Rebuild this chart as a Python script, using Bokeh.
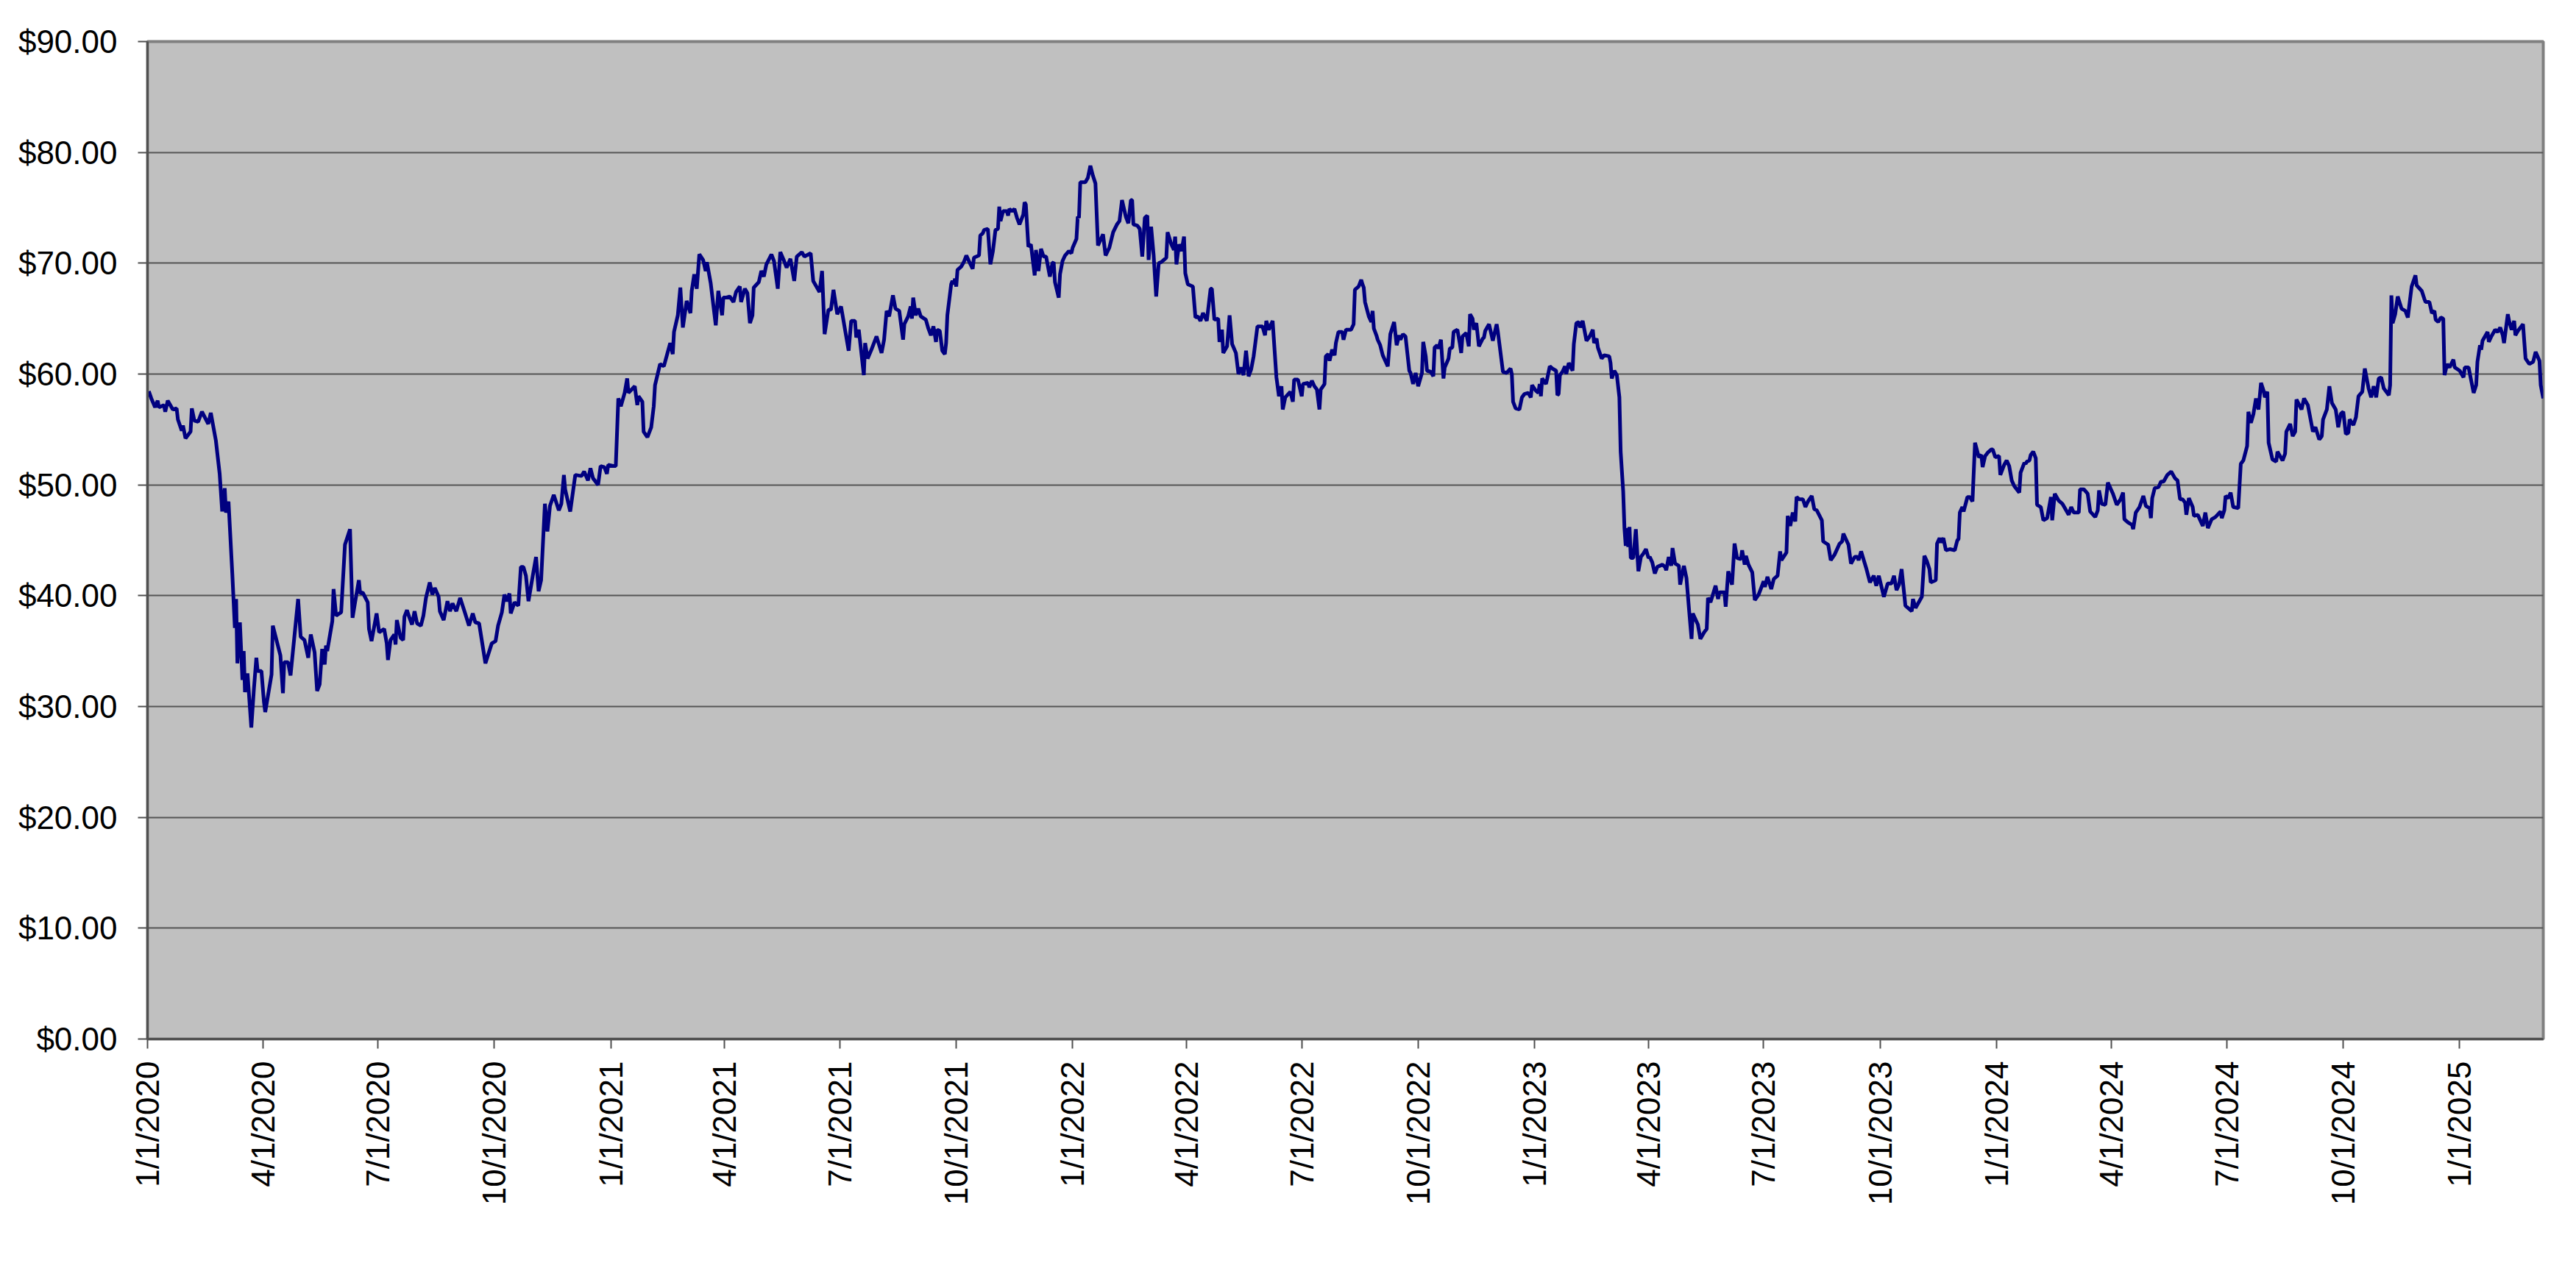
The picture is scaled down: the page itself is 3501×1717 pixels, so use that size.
import math
import pandas as pd
from bokeh.plotting import figure
from bokeh.models import FixedTicker, NumeralTickFormatter, Range1d, ColumnDataSource
from bokeh.embed import file_html
from bokeh.resources import INLINE

# ---------------- data ----------------
# day offsets are calendar days counted from 2020-01-01
START = "2020-01-01"

days_2020 = [1, 3, 6, 8, 9, 13, 14, 16, 20, 23,
             24, 27, 28, 30, 34, 35, 37, 40, 43, 48,
             50, 54, 57, 59, 61, 62, 64, 67, 69, 70,
             71, 73, 75, 76, 77, 79, 82, 84, 86, 87,
             90, 92, 93, 98, 99, 105, 107, 108, 111, 113,
             119, 121, 124, 127, 129, 132, 134, 136, 138, 140,
             141, 142, 146, 147, 149, 153, 156, 160, 162, 164,
             167, 168, 170, 174, 175, 177, 181, 183, 187, 189,
             190, 192, 195, 196, 197, 200, 202, 203, 205, 207,
             209, 211, 213, 216, 218, 220, 223, 225, 227, 230,
             231, 234, 237, 239, 241, 244, 247, 251, 254, 257,
             259, 262, 267, 272, 275, 277, 280, 282, 284, 286,
             287, 290, 293, 295, 297, 299, 301, 305, 307, 309,
             311, 314, 316, 318, 321, 325, 327, 329, 330, 334,
             338, 343, 345, 348, 350, 352, 356, 358, 361, 363,
             364]
price_2020 = [58.45, 57.8, 57.0, 57.6, 57.0, 57.2, 56.6, 57.6, 56.8, 56.9,
              55.9, 54.9, 55.35, 54.2, 54.8, 56.9, 55.8, 55.7, 56.6, 55.5,
              56.5, 54.0, 51.0, 47.6, 49.7, 47.5, 48.5, 41.95, 37.1, 39.7,
              33.9, 37.6, 32.4, 35.0, 31.3, 33.0, 28.1, 31.5, 34.4, 33.2,
              33.2, 30.4, 29.5, 32.9, 37.3, 34.6, 31.2, 34.0, 34.0, 32.8,
              39.7, 36.3, 36.0, 34.4, 36.5, 34.9, 31.4, 32.0, 35.2, 33.8,
              35.5, 35.0, 37.7, 40.6, 38.2, 38.5, 44.6, 46.0, 38.0, 39.4,
              41.4, 40.2, 40.3, 39.4, 37.0, 35.9, 38.4, 36.7, 37.0, 35.7,
              34.2, 36.0, 36.5, 35.6, 37.8, 36.2, 36.0, 38.1, 38.7, 38.0,
              37.4, 38.6, 37.5, 37.3, 38.2, 39.8, 41.2, 40.1, 40.7, 39.9,
              38.6, 37.8, 39.5, 38.6, 39.3, 38.6, 39.8, 38.4, 37.3, 38.4,
              37.6, 37.5, 33.9, 35.7, 35.9, 37.3, 38.5, 40.1, 39.5, 40.2,
              38.4, 39.4, 39.1, 42.6, 42.6, 41.8, 39.5, 42.2, 43.5, 40.4,
              41.4, 48.3, 45.8, 48.1, 49.1, 47.7, 48.3, 50.9, 49.6, 47.6,
              50.9, 50.8, 51.2, 50.4, 51.5, 50.6, 50.0, 51.7, 51.6, 51.0,
              51.8]

days_2021 = [368, 370, 372, 374, 377, 379, 380, 385, 387, 388,
             391, 392, 395, 398, 400, 401, 405, 408, 413, 415,
             416, 419, 421, 423, 426, 429, 430, 432, 434, 436,
             439, 441, 442, 445, 447, 449, 451, 454, 455, 457,
             460, 463, 465, 468, 469, 472, 474, 476, 478, 479,
             483, 485, 487, 489, 493, 495, 498, 500, 503, 505,
             508, 511, 513, 517, 519, 524, 526, 531, 533, 535,
             538, 540, 542, 545, 548, 554, 556, 559, 560, 562,
             566, 567, 569, 572, 576, 580, 582, 584, 586, 589,
             591, 594, 597, 598, 601, 603, 604, 605, 607, 609,
             611, 615, 617, 619, 621, 623, 624, 626, 628, 630,
             631, 632, 635, 636, 637, 638, 639, 640, 643, 645,
             647, 649, 652, 653, 657, 658, 660, 661, 664, 666,
             668, 670, 672, 673, 674, 676, 679, 680, 681, 683,
             685, 687, 689, 692, 693, 694, 696, 698, 701, 702,
             704, 706, 708, 710, 713, 715, 716, 717, 720, 721,
             723, 725, 728, 730]
price_2021 = [51.7, 51.7, 57.8, 57.1, 58.3, 59.6, 58.3, 58.9, 57.2, 58.0,
              57.5, 54.8, 54.3, 55.2, 57.1, 59.0, 60.9, 60.7, 62.8, 61.8,
              63.8, 65.3, 67.8, 64.2, 66.6, 65.5, 67.5, 69.0, 67.7, 70.8,
              70.3, 69.3, 70.1, 68.2, 66.3, 64.4, 67.5, 65.3, 66.9, 66.9,
              67.0, 66.5, 67.4, 67.9, 66.5, 67.7, 67.3, 64.6, 65.3, 67.8,
              68.3, 69.3, 68.8, 69.9, 70.8, 70.2, 67.7, 71.0, 70.2, 69.6,
              70.4, 68.4, 70.6, 71.0, 70.6, 70.9, 68.4, 67.4, 69.3, 63.6,
              65.8, 65.8, 67.6, 65.4, 66.1, 62.1, 64.8, 64.8, 63.3, 64.0,
              59.9, 62.8, 61.4, 62.2, 63.4, 61.9, 63.1, 65.7, 65.2, 67.1,
              65.9, 65.7, 63.1, 64.5, 65.2, 66.1, 65.0, 66.9, 65.3, 65.9,
              65.2, 64.9, 64.1, 63.5, 64.3, 62.9, 64.0, 63.9, 62.1, 61.8,
              62.8, 65.3, 68.1, 68.4, 68.1, 68.6, 67.9, 69.4, 69.7, 70.1,
              70.7, 70.2, 69.5, 70.5, 70.7, 72.5, 72.7, 73.0, 73.1, 69.9,
              71.1, 73.0, 73.1, 75.1, 73.8, 74.7, 74.7, 74.3, 74.9, 74.7,
              74.9, 74.1, 73.5, 74.4, 75.5, 75.3, 71.5, 71.7, 68.9, 71.2,
              69.3, 71.3, 70.6, 70.6, 68.8, 70.0, 70.1, 68.3, 66.9, 69.0,
              70.2, 70.7, 71.1, 70.9]

days_2022 = [731, 734, 735, 736, 737, 739, 741, 743, 745, 747,
             749, 751, 753, 755, 757, 760, 763, 766, 768, 770,
             773, 775, 777, 778, 779, 782, 784, 786, 788, 790,
             791, 793, 795, 797, 799, 801, 805, 806, 809, 811,
             812, 813, 815, 817, 819, 820, 822, 826, 828, 830,
             832, 834, 837, 840, 841, 843, 846, 847, 849, 850,
             853, 855, 857, 860, 862, 864, 866, 868, 870, 872,
             874, 877, 881, 883, 884, 886, 889, 892, 894, 896,
             897, 899, 903, 905, 906, 909, 912, 913, 917, 918,
             920, 922, 924, 926, 927, 930, 931, 933, 934, 936,
             938, 939, 941, 944, 945, 947, 951, 953, 954, 957,
             959, 960, 961, 962, 965, 967, 968, 969, 971, 972,
             974, 976, 978, 980, 982, 985, 987, 989, 990, 992,
             994, 997, 998, 1000, 1002, 1004, 1007, 1008, 1010, 1011,
             1014, 1016, 1017, 1019, 1020, 1022, 1024, 1025, 1028, 1029,
             1031, 1032, 1035, 1037, 1038, 1039, 1042, 1044, 1045, 1047,
             1048, 1050, 1052, 1055, 1056, 1057, 1060, 1063, 1066, 1067,
             1071, 1074, 1077, 1078, 1079, 1081, 1084, 1086, 1088, 1091,
             1093, 1094]
price_2022 = [71.4, 72.2, 74.2, 74.1, 77.3, 77.3, 77.3, 77.7, 78.8, 77.9,
              77.2, 71.6, 72.1, 72.6, 70.7, 71.4, 72.8, 73.5, 73.8, 75.7,
              74.2, 73.6, 75.7, 75.7, 73.5, 73.4, 73.1, 70.6, 74.1, 74.3,
              70.3, 73.3, 70.7, 67.0, 70.0, 70.1, 70.5, 72.8, 71.7, 71.2,
              72.4, 69.9, 71.7, 71.1, 72.4, 69.1, 68.1, 67.9, 65.1, 65.2,
              64.8, 65.5, 64.8, 67.7, 67.7, 64.9, 65.0, 62.9, 64.0, 61.9,
              62.5, 65.3, 62.7, 61.9, 60.0, 60.6, 59.9, 62.1, 59.8, 60.4,
              61.6, 64.3, 64.3, 63.5, 64.8, 64.0, 64.8, 59.7, 58.0, 58.9,
              56.8, 57.9, 58.4, 57.5, 59.5, 59.5, 58.0, 59.1, 59.2, 58.8,
              59.4, 58.9, 58.6, 56.8, 58.6, 59.1, 61.6, 61.8, 61.2, 62.2,
              61.7, 62.8, 63.8, 63.8, 63.1, 64.0, 64.0, 64.5, 67.6, 67.9,
              68.5, 68.1, 67.8, 66.5, 65.2, 64.7, 65.7, 64.1, 63.5, 63.1,
              62.6, 61.7, 61.2, 60.7, 63.6, 64.7, 62.6, 63.5, 63.1, 63.6,
              63.4, 60.3, 60.1, 59.1, 60.1, 58.9, 60.1, 62.9, 61.6, 60.3,
              60.2, 59.8, 62.4, 62.6, 62.3, 63.1, 59.6, 60.6, 61.4, 62.3,
              62.4, 63.8, 64.0, 62.7, 61.9, 63.4, 63.7, 62.5, 65.4, 65.0,
              64.0, 64.6, 62.5, 63.2, 63.3, 63.9, 64.5, 63.0, 64.5, 63.8,
              60.2, 60.1, 60.5, 60.0, 57.5, 56.9, 56.8, 57.9, 58.2, 58.3,
              57.9, 59.0]

days_2023 = [1097, 1099, 1100, 1101, 1102, 1105, 1106, 1108, 1110, 1113,
             1114, 1115, 1116, 1118, 1120, 1121, 1123, 1126, 1127, 1129,
             1131, 1132, 1134, 1137, 1139, 1140, 1142, 1143, 1145, 1146,
             1149, 1151, 1155, 1156, 1157, 1159, 1161, 1163, 1164, 1166,
             1167, 1168, 1169, 1170, 1171, 1172, 1174, 1176, 1178, 1180,
             1182, 1184, 1186, 1187, 1189, 1191, 1193, 1197, 1199, 1200,
             1202, 1204, 1205, 1207, 1210, 1211, 1214, 1216, 1218, 1220,
             1221, 1225, 1227, 1230, 1232, 1233, 1235, 1239, 1241, 1242,
             1246, 1247, 1249, 1252, 1254, 1256, 1259, 1260, 1262, 1263,
             1265, 1268, 1270, 1273, 1275, 1277, 1278, 1280, 1283, 1285,
             1288, 1290, 1291, 1295, 1296, 1298, 1300, 1302, 1303, 1305,
             1308, 1310, 1312, 1315, 1317, 1319, 1323, 1324, 1328, 1330,
             1333, 1337, 1339, 1340, 1344, 1346, 1349, 1351, 1352, 1354,
             1358, 1361, 1364, 1366, 1368, 1372, 1375, 1378, 1380, 1382,
             1384, 1386, 1389, 1391, 1394, 1395, 1397, 1402, 1404, 1406,
             1408, 1409, 1413, 1414, 1416, 1417, 1419, 1421, 1424, 1428,
             1430, 1431, 1432, 1434, 1435, 1438, 1440, 1442, 1444, 1447,
             1449, 1450, 1452, 1454, 1457, 1458, 1460]
price_2023 = [58.5, 58.3, 59.1, 58.0, 59.6, 59.1, 59.6, 60.7, 60.5, 60.3,
              58.1, 58.2, 59.9, 60.2, 60.7, 60.0, 61.0, 60.3, 62.7, 64.6,
              64.7, 64.2, 64.8, 63.0, 63.3, 63.5, 64.0, 62.8, 63.2, 62.4,
              61.4, 61.7, 61.6, 61.0, 59.6, 60.3, 59.9, 57.9, 53.0, 49.4,
              46.1, 44.5, 46.1, 44.4, 46.2, 43.4, 43.4, 46.0, 42.2, 43.5,
              43.8, 44.2, 43.4, 43.5, 43.0, 42.0, 42.6, 42.8, 42.6, 42.3,
              43.5, 42.7, 44.3, 42.9, 42.7, 41.0, 42.7, 41.6, 38.8, 36.1,
              38.4, 37.4, 36.1, 36.7, 37.0, 39.8, 39.4, 40.9, 39.7, 40.3,
              40.3, 39.0, 42.2, 41.0, 44.7, 43.4, 43.3, 44.1, 42.8, 43.6,
              42.8, 42.1, 39.6, 40.1, 40.7, 41.3, 40.8, 41.7, 40.6, 41.5,
              41.8, 44.0, 43.2, 43.9, 47.2, 46.3, 47.5, 46.7, 48.9, 48.7,
              48.7, 48.0, 48.5, 49.0, 47.8, 47.7, 46.8, 44.9, 44.6, 43.2,
              43.7, 44.7, 44.9, 45.6, 44.6, 42.9, 43.5, 43.5, 43.2, 44.0,
              42.5, 41.2, 41.8, 40.9, 41.8, 39.9, 41.1, 41.1, 41.8, 40.5,
              41.0, 42.4, 39.1, 38.9, 38.6, 39.7, 38.9, 39.9, 43.6, 43.1,
              42.4, 41.2, 41.4, 44.7, 45.2, 44.8, 45.2, 44.1, 44.2, 44.1,
              45.0, 45.1, 47.5, 48.0, 47.6, 48.9, 48.9, 48.5, 53.8, 52.5,
              52.7, 51.6, 52.6, 52.9, 53.2, 53.2, 52.5]

days_2024 = [1463, 1464, 1467, 1469, 1471, 1473, 1475, 1479, 1480, 1483,
             1484, 1485, 1487, 1488, 1490, 1492, 1493, 1496, 1498, 1501,
             1504, 1505, 1507, 1510, 1513, 1515, 1518, 1520, 1522, 1526,
             1527, 1530, 1533, 1535, 1539, 1541, 1542, 1544, 1547, 1549,
             1553, 1556, 1559, 1561, 1562, 1565, 1568, 1569, 1571, 1574,
             1577, 1579, 1582, 1583, 1584, 1586, 1589, 1591, 1593, 1596,
             1599, 1602, 1604, 1606, 1608, 1610, 1611, 1613, 1616, 1617,
             1620, 1624, 1626, 1628, 1631, 1634, 1638, 1639, 1641, 1642,
             1644, 1646, 1648, 1652, 1654, 1656, 1659, 1660, 1662, 1664,
             1666, 1668, 1670, 1672, 1673, 1675, 1676, 1679, 1682, 1683,
             1687, 1689, 1690, 1693, 1695, 1697, 1698, 1702, 1704, 1707,
             1711, 1713, 1716, 1718, 1719, 1722, 1724, 1726, 1729, 1731,
             1733, 1735, 1737, 1739, 1740, 1743, 1745, 1747, 1750, 1752,
             1755, 1757, 1759, 1761, 1763, 1765, 1767, 1771, 1772, 1773,
             1774, 1776, 1778, 1781, 1784, 1786, 1789, 1792, 1793, 1797,
             1799, 1800, 1803, 1805, 1807, 1808, 1810, 1812, 1814, 1815,
             1817, 1819, 1822, 1823]
price_2024 = [52.6, 50.9, 51.8, 52.2, 51.7, 50.4, 49.9, 49.3, 51.1, 52.0,
              51.9, 52.1, 52.2, 52.7, 53.0, 52.4, 48.2, 48.0, 46.8, 47.0,
              48.9, 46.8, 49.2, 48.6, 48.3, 47.9, 47.3, 48.0, 47.5, 47.5,
              49.6, 49.6, 49.2, 47.6, 47.1, 47.7, 49.5, 48.3, 48.2, 50.2,
              49.2, 48.2, 48.7, 49.3, 46.9, 46.6, 46.4, 46.0, 47.5, 48.0,
              49.0, 48.1, 47.9, 47.0, 48.8, 49.7, 49.8, 50.3, 50.3, 50.9,
              51.2, 50.6, 50.4, 48.7, 48.7, 48.4, 47.3, 48.8, 48.0, 47.2,
              47.3, 46.3, 47.5, 46.1, 46.9, 47.1, 47.6, 47.0, 47.7, 49.0,
              48.8, 49.3, 48.0, 47.9, 51.9, 52.2, 53.5, 56.6, 55.6, 56.4,
              57.8, 56.8, 59.2, 58.5, 57.9, 58.4, 53.8, 52.3, 52.1, 53.0,
              52.2, 52.8, 54.8, 55.5, 54.4, 54.8, 57.7, 56.8, 57.8, 57.2,
              54.8, 55.2, 54.1, 54.4, 55.9, 56.8, 58.9, 57.4, 56.8, 55.2,
              56.4, 56.6, 54.6, 54.7, 55.9, 55.4, 56.1, 58.0, 58.4, 60.5,
              58.7, 57.9, 58.9, 57.9, 59.6, 59.7, 58.7, 58.1, 59.0, 67.1,
              64.6, 65.4, 67.0, 65.9, 65.7, 65.1, 67.9, 68.9, 68.0, 67.5,
              66.8, 66.5, 66.5, 65.5, 65.7, 64.9, 64.7, 65.1, 65.0, 59.9,
              60.9, 60.6, 61.3, 60.6]

days_2025 = [1827, 1830, 1831, 1834, 1838, 1840, 1841, 1843, 1844, 1845,
             1849, 1850, 1852, 1855, 1857, 1859, 1861, 1862, 1865, 1866,
             1868, 1870, 1871, 1873, 1877, 1879, 1882, 1885, 1887, 1890,
             1891, 1893]
price_2025 = [60.3, 59.7, 60.6, 60.6, 58.3, 59.0, 61.1, 62.6, 62.2, 63.0,
              63.8, 62.9, 63.4, 64.0, 63.8, 64.2, 63.5, 62.8, 65.4, 64.8,
              64.0, 64.8, 63.5, 63.9, 64.5, 61.4, 60.9, 61.1, 62.0, 61.2,
              59.0, 57.8]

tick_labels = ["1/1/2020", "4/1/2020", "7/1/2020", "10/1/2020",
               "1/1/2021", "4/1/2021", "7/1/2021", "10/1/2021",
               "1/1/2022", "4/1/2022", "7/1/2022", "10/1/2022",
               "1/1/2023", "4/1/2023", "7/1/2023", "10/1/2023",
               "1/1/2024", "4/1/2024", "7/1/2024", "10/1/2024",
               "1/1/2025"]
y_ticks = [0, 10, 20, 30, 40, 50, 60, 70, 80, 90]

# ---------------- build ----------------
days = days_2020 + days_2021 + days_2022 + days_2023 + days_2024 + days_2025
prices = price_2020 + price_2021 + price_2022 + price_2023 + price_2024 + price_2025
dates = pd.Timestamp(START) + pd.to_timedelta(days, unit="D")
src = ColumnDataSource(dict(date=dates, price=prices))

tick_dates = pd.to_datetime(tick_labels, format="%m/%d/%Y")
tick_ms = [int(t.value // 10**6) for t in tick_dates]

FONT = "Liberation Sans"

p = figure(width=3485, height=1701, output_backend="svg", toolbar_location=None,
           x_axis_type="datetime",
           x_range=Range1d(start=pd.Timestamp(START), end=dates[-1]),
           y_range=Range1d(start=0, end=90),
           min_border_left=200, min_border_right=29,
           min_border_top=56, min_border_bottom=289)

p.background_fill_color = "#C0C0C0"
p.border_fill_color = "white"
p.outline_line_color = "#808080"
p.outline_line_width = 4

p.line(x="date", y="price", source=src, line_color="#000080", line_width=5)

# y axis
p.yaxis.ticker = FixedTicker(ticks=y_ticks)
p.yaxis.formatter = NumeralTickFormatter(format="$0.00")
p.yaxis.major_label_text_font = FONT
p.yaxis.major_label_text_font_size = "44px"
p.yaxis.major_label_text_color = "black"
p.yaxis.major_label_standoff = 28
p.yaxis.axis_line_color = "#505050"
p.yaxis.axis_line_width = 3
p.yaxis.major_tick_line_color = "#505050"
p.yaxis.major_tick_line_width = 2
p.yaxis.major_tick_in = 0
p.yaxis.major_tick_out = 13
p.yaxis.minor_tick_line_color = None

# x axis
p.xaxis.ticker = FixedTicker(ticks=tick_ms)
p.xaxis.major_label_overrides = dict(zip(tick_ms, tick_labels))
p.xaxis.major_label_orientation = math.pi / 2
p.xaxis.major_label_text_font = FONT
p.xaxis.major_label_text_font_size = "44px"
p.xaxis.major_label_text_color = "black"
p.xaxis.major_label_standoff = 17
p.xaxis.axis_line_color = "#505050"
p.xaxis.axis_line_width = 3
p.xaxis.major_tick_line_color = "#505050"
p.xaxis.major_tick_line_width = 2
p.xaxis.major_tick_in = 0
p.xaxis.major_tick_out = 13
p.xaxis.minor_tick_line_color = None

# grid
p.xgrid.grid_line_color = None
p.ygrid.grid_line_color = "#555555"
p.ygrid.grid_line_width = 2

open("out.html", "w").write(file_html(p, INLINE))
